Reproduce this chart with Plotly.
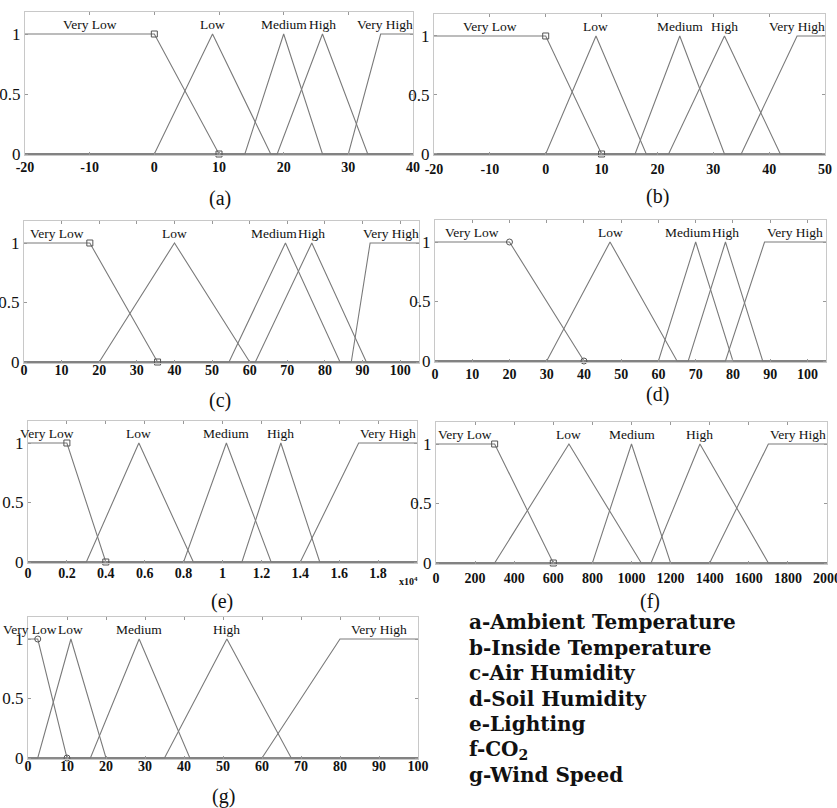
import plotly.graph_objects as go

# ---------------- data ----------------
mf_names = ["Very Low", "Low", "Medium", "High", "Very High"]

# membership functions as trapezoids [a, b, c, d]; triangles have b == c
ambient_temp_mf = [[-20, -20, 0, 10], [0, 9, 9, 18], [14, 20, 20, 26], [19, 26, 26, 33], [30, 35, 40, 40]]
ambient_temp_range = [-20, 40]
ambient_temp_ticks = [-20, -10, 0, 10, 20, 30, 40]

inside_temp_mf = [[-20, -20, 0, 10], [0, 9, 9, 18], [16, 24, 24, 32], [22, 32, 32, 42], [35, 45, 50, 50]]
inside_temp_range = [-20, 50]
inside_temp_ticks = [-20, -10, 0, 10, 20, 30, 40, 50]

air_hum_mf = [[0, 0, 17.5, 35.5], [20, 40, 40, 60], [54.5, 69.5, 69.5, 84], [61.5, 76.5, 76.5, 91], [87, 92, 105, 105]]
air_hum_range = [0, 105]
air_hum_ticks = [0, 10, 20, 30, 40, 50, 60, 70, 80, 90, 100]

soil_hum_mf = [[0, 0, 20, 40], [30, 47, 47, 65], [60, 70, 70, 80], [68, 78, 78, 88], [78, 88.5, 105, 105]]
soil_hum_range = [0, 105]
soil_hum_ticks = [0, 10, 20, 30, 40, 50, 60, 70, 80, 90, 100]

lighting_mf = [[0, 0, 2000, 4000], [3000, 5700, 5700, 8500], [8000, 10200, 10200, 12500],
               [11000, 13000, 13000, 15000], [14000, 17000, 20000, 20000]]
lighting_range = [0, 20000]
lighting_ticks = [0, 2000, 4000, 6000, 8000, 10000, 12000, 14000, 16000, 18000]
lighting_tick_labels = ["0", "0.2", "0.4", "0.6", "0.8", "1", "1.2", "1.4", "1.6", "1.8"]

co2_mf = [[0, 0, 300, 600], [300, 680, 680, 1050], [800, 1000, 1000, 1200],
          [1100, 1350, 1350, 1700], [1400, 1700, 2000, 2000]]
co2_range = [0, 2000]
co2_ticks = [0, 200, 400, 600, 800, 1000, 1200, 1400, 1600, 1800, 2000]

wind_mf = [[0, 0, 2.5, 10], [2.5, 11, 11, 20], [16, 28.5, 28.5, 41.5], [35, 51, 51, 67.5], [60, 80, 100, 100]]
wind_range = [0, 100]
wind_ticks = [0, 10, 20, 30, 40, 50, 60, 70, 80, 90, 100]

panel_letters = ["(a)", "(b)", "(c)", "(d)", "(e)", "(f)", "(g)"]
legend_lines = ["a-Ambient Temperature", "b-Inside Temperature", "c-Air Humidity",
                "d-Soil Humidity", "e-Lighting", "f-CO<sub>2</sub>", "g-Wind Speed"]

# ---------------- layout helpers ----------------
W, H = 837, 808
LINE = "#7a7a7a"
FRAME = "#c8c8c8"
SERIF = "Liberation Serif"
NAME_SIZE = 13.5
CHAR_W = 6.3  # approx px per char of the MF name labels

# box = (left px, right px, y=1 px, y=0 px); letter = (x px, y px); stand = tick label standoff
panels = [
    dict(mf=ambient_temp_mf, rng=ambient_temp_range, ticks=ambient_temp_ticks, labels=None,
         box=(25, 413, 34, 154), letter=(220, 198), marker="square-open", stand=-1),
    dict(mf=inside_temp_mf, rng=inside_temp_range, ticks=inside_temp_ticks, labels=None,
         box=(434, 825, 36, 154), letter=(657, 196), marker="square-open", stand=1),
    dict(mf=air_hum_mf, rng=air_hum_range, ticks=air_hum_ticks, labels=None,
         box=(24, 419, 243, 362), letter=(220, 400), marker="square-open", stand=-6),
    dict(mf=soil_hum_mf, rng=soil_hum_range, ticks=soil_hum_ticks, labels=None,
         box=(435, 826, 242, 361), letter=(657, 394), marker="circle-open", stand=-1),
    dict(mf=lighting_mf, rng=lighting_range, ticks=lighting_ticks, labels=lighting_tick_labels,
         box=(28, 417, 443, 562), letter=(222, 601), marker="square-open", stand=-3),
    dict(mf=co2_mf, rng=co2_range, ticks=co2_ticks, labels=None,
         box=(436, 827, 444, 563), letter=(650, 601), marker="square-open", stand=1),
    dict(mf=wind_mf, rng=wind_range, ticks=wind_ticks, labels=None,
         box=(28, 418, 639, 758), letter=(223, 796), marker="circle-open", stand=-6),
]

Y_TOP = 1.183
Y_BOT = -0.012


def mf_polyline(p, rng):
    a, b, c, d = p
    xs, ys = [], []
    if a > rng[0]:
        xs += [rng[0], a]; ys += [0, 0]
    elif b > a:
        xs += [a]; ys += [0]
    xs += [b, c]; ys += [1, 1]
    if d > c:
        xs += [d]; ys += [0]
    if d < rng[1]:
        xs += [rng[1]]; ys += [0]
    return xs, ys


fig = go.Figure()
annotations = []

for i, pn in enumerate(panels):
    n = i + 1
    xa = "x" if n == 1 else f"x{n}"
    ya = "y" if n == 1 else f"y{n}"
    left, right, y1px, y0px = pn["box"]
    unit = y0px - y1px
    top = y1px - (Y_TOP - 1) * unit
    bot = y0px - Y_BOT * unit
    rng = pn["rng"]

    for k, p in enumerate(pn["mf"]):
        xs, ys = mf_polyline(p, rng)
        fig.add_trace(go.Scatter(x=xs, y=ys, mode="lines", xaxis=xa, yaxis=ya,
                                 line=dict(color=LINE, width=1.1), hoverinfo="skip",
                                 showlegend=False))
    # markers on the first membership function
    vl = pn["mf"][0]
    fig.add_trace(go.Scatter(x=[vl[2], vl[3]], y=[1, 0], mode="markers", xaxis=xa, yaxis=ya,
                             marker=dict(symbol=pn["marker"], size=6, color="#555",
                                         line=dict(width=1)),
                             hoverinfo="skip", showlegend=False, cliponaxis=False))

    # MF name labels: centred on the top of each MF, kept inside on the right,
    # and nudged left when they would collide with the next label
    px_per = (right - left) / (rng[1] - rng[0])
    centers = [left + ((p[1] + p[2]) / 2 - rng[0]) * px_per for p in pn["mf"]]
    widths = [len(nm) * CHAR_W for nm in mf_names]
    if centers[-1] + widths[-1] / 2 > right:
        centers[-1] = right - widths[-1] / 2
    for k in range(len(centers) - 2, -1, -1):
        limit = centers[k + 1] - widths[k + 1] / 2 - 6
        if centers[k] + widths[k] / 2 > limit:
            centers[k] = limit - widths[k] / 2
    for name, cpx in zip(mf_names, centers):
        annotations.append(dict(x=rng[0] + (cpx - left) / px_per, y=1, xref=xa, yref=ya, text=name,
                                showarrow=False, xanchor="center", yanchor="bottom",
                                font=dict(family=SERIF, size=NAME_SIZE, color="#111")))

    # panel letter
    lx, ly = pn["letter"]
    annotations.append(dict(x=lx / W, y=1 - ly / H, xref="paper", yref="paper", text=panel_letters[i],
                            showarrow=False, xanchor="center", yanchor="middle",
                            font=dict(family=SERIF, size=20, color="#111")))

    tick_text = pn["labels"] if pn["labels"] is not None else [str(t) for t in pn["ticks"]]
    fig.update_layout(**{
        ("xaxis" if n == 1 else f"xaxis{n}"): dict(
            domain=[left / W, right / W], range=rng, anchor=ya, automargin=False,
            tickvals=pn["ticks"], ticktext=tick_text, ticklabeloverflow="allow",
            showline=True, mirror="ticks", linecolor=FRAME, linewidth=1,
            ticks="inside", ticklen=3, tickcolor="#999", ticklabelstandoff=pn["stand"],
            showgrid=False, zeroline=False, fixedrange=True,
            tickfont=dict(family=SERIF, size=14, color="#111", weight="bold")),
        ("yaxis" if n == 1 else f"yaxis{n}"): dict(
            domain=[1 - bot / H, 1 - top / H], range=[Y_BOT, Y_TOP], anchor=xa, automargin=False,
            tickvals=[0, 0.5, 1], ticktext=["0", "0.5", "1"], ticklabeloverflow="allow",
            showline=True, mirror="ticks", linecolor=FRAME, linewidth=1,
            ticks="inside", ticklen=3, tickcolor="#999",
            showgrid=False, zeroline=False, fixedrange=True,
            tickfont=dict(family=SERIF, size=17, color="#111")),
    })

# x10^4 multiplier for the lighting panel
annotations.append(dict(x=408 / W, y=1 - 581 / H, xref="paper", yref="paper",
                        text="x10<sup>4</sup>", showarrow=False, xanchor="center", yanchor="middle",
                        font=dict(family=SERIF, size=10, color="#111", weight="bold")))

# variable legend
for j, txt in enumerate(legend_lines):
    ypx = 622 + j * 25.5
    annotations.append(dict(x=467 / W, y=1 - ypx / H, xref="paper", yref="paper", text=txt,
                            showarrow=False, xanchor="left", yanchor="middle",
                            font=dict(family="DejaVu Serif", size=20, color="#111", weight="bold")))

fig.update_layout(width=W, height=H, margin=dict(l=0, r=0, t=0, b=0, autoexpand=False),
                  paper_bgcolor="white", plot_bgcolor="white",
                  annotations=annotations, showlegend=False)

fig.write_html("out.html", config={"displayModeBar": False},
               post_script="document.body.style.margin='0px';")
